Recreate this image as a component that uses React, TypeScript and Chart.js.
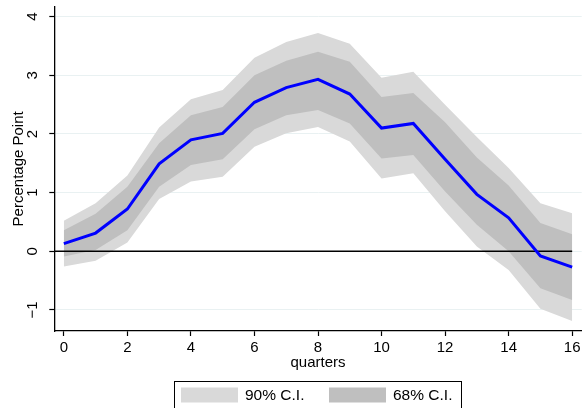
import React, { useEffect, useRef } from 'react';
import Chart from 'chart.js/auto';

// Impulse response and confidence bands
const quarters = [0, 1, 2, 3, 4, 5, 6, 7, 8, 9, 10, 11, 12, 13, 14, 15, 16];
const response = [0.13, 0.31, 0.72, 1.49, 1.9, 2.01, 2.54, 2.79, 2.93, 2.68, 2.1, 2.18, 1.57, 0.97, 0.57, -0.08, -0.27];
const upper68 = [0.36, 0.64, 1.1, 1.84, 2.32, 2.46, 3.0, 3.25, 3.4, 3.23, 2.63, 2.7, 2.2, 1.6, 1.12, 0.48, 0.29];
const lower68 = [-0.09, 0.02, 0.36, 1.1, 1.47, 1.57, 2.08, 2.32, 2.41, 2.18, 1.58, 1.64, 1.02, 0.45, 0.0, -0.63, -0.83];
const upper90 = [0.52, 0.82, 1.29, 2.11, 2.59, 2.75, 3.3, 3.57, 3.72, 3.54, 2.96, 3.06, 2.5, 1.95, 1.42, 0.82, 0.65];
const lower90 = [-0.26, -0.16, 0.15, 0.89, 1.19, 1.27, 1.78, 2.01, 2.12, 1.87, 1.24, 1.33, 0.68, 0.08, -0.32, -0.98, -1.19];

const xTicks = [0, 2, 4, 6, 8, 10, 12, 14, 16];
const yTicks = [-1, 0, 1, 2, 3, 4];
const xMin = -0.3;
const xMax = 16.3;
const yMin = -1.36;
const yMax = 4.17;

const LIGHT = '#d9d9d9';
const DARK = '#bfbfbf';
const FONT = 'Liberation Sans, Arial, Helvetica, sans-serif';

const toPoints = (ys: number[]) => quarters.map((q, i) => ({ x: q, y: ys[i] }));

// Stata-like boxed legend below the plot
const boxLegend = {
  id: 'boxLegend',
  afterDraw(chart: any) {
    const { ctx } = chart;
    const items = chart.data.datasets.filter((d: any) => d.inLegend);
    ctx.save();
    ctx.strokeStyle = '#000';
    ctx.lineWidth = 1;
    ctx.strokeRect(174.5, 381.5, 287, 40);
    ctx.font = `15.5px ${FONT}`;
    ctx.textBaseline = 'middle';
    ctx.textAlign = 'left';
    items.forEach((d: any, i: number) => {
      const x0 = 181 + i * 148;
      ctx.fillStyle = d.backgroundColor;
      ctx.fillRect(x0, 387.5, 57, 15);
      ctx.fillStyle = '#000';
      ctx.fillText(d.label, x0 + 64, 395.5);
    });
    ctx.restore();
  },
};

const IrfChart: React.FC = () => {
  const canvasRef = useRef<HTMLCanvasElement | null>(null);

  useEffect(() => {
    if (!canvasRef.current) return;
    const chart = new Chart(canvasRef.current, {
      type: 'line',
      data: {
        datasets: [
          {
            label: '90% C.I.',
            data: toPoints(upper90),
            backgroundColor: LIGHT,
            borderWidth: 0,
            pointRadius: 0,
            fill: '+1',
            order: 4,
            inLegend: true,
          } as any,
          {
            label: 'lower90',
            data: toPoints(lower90),
            borderWidth: 0,
            pointRadius: 0,
            fill: false,
            order: 4,
          },
          {
            label: '68% C.I.',
            data: toPoints(upper68),
            backgroundColor: DARK,
            borderWidth: 0,
            pointRadius: 0,
            fill: '+1',
            order: 3,
            inLegend: true,
          } as any,
          {
            label: 'lower68',
            data: toPoints(lower68),
            borderWidth: 0,
            pointRadius: 0,
            fill: false,
            order: 3,
          },
          {
            label: 'zero',
            data: [{ x: xMin, y: 0 }, { x: 16, y: 0 }],
            borderColor: '#000',
            borderWidth: 1.3,
            pointRadius: 0,
            fill: false,
            order: 2,
          },
          {
            label: 'response',
            data: toPoints(response),
            borderColor: '#0000ff',
            borderWidth: 3,
            pointRadius: 0,
            fill: false,
            order: 1,
          },
        ],
      },
      options: {
        responsive: false,
        animation: false,
        layout: { padding: { left: 0, top: 6.7, right: 3.3, bottom: 35 } },
        plugins: { legend: { display: false }, tooltip: { enabled: false } },
        scales: {
          x: {
            type: 'linear',
            min: xMin,
            max: xMax,
            afterBuildTicks: (s: any) => {
              s.ticks = xTicks.map((v) => ({ value: v }));
            },
            afterFit: (s: any) => {
              s.height = 42;
              s.paddingLeft = 0;
              s.paddingRight = 0;
            },
            border: { color: '#000', width: 1.3 },
            grid: { drawOnChartArea: false, tickColor: '#000', tickLength: 5, tickWidth: 1.2 },
            ticks: { color: '#000', font: { family: FONT, size: 15 }, padding: 3, maxRotation: 0 },
            title: { display: true, text: 'quarters', color: '#000', font: { family: FONT, size: 15 }, padding: { top: 0, bottom: 1.5 } },
          },
          y: {
            type: 'linear',
            min: yMin,
            max: yMax,
            afterBuildTicks: (s: any) => {
              s.ticks = yTicks.map((v) => ({ value: v }));
            },
            afterFit: (s: any) => {
              s.width = 54.3;
              s.paddingTop = 0;
              s.paddingBottom = 0;
            },
            border: { color: '#000', width: 1.3 },
            grid: { color: '#e9f1f2', lineWidth: 1, tickColor: '#000', tickLength: 5, tickWidth: 1.2 },
            ticks: {
              color: '#000',
              font: { family: FONT, size: 15 },
              padding: 8,
              minRotation: 90,
              maxRotation: 90,
              crossAlign: 'center',
              callback: (v: any) => (Number(v) < 0 ? '\u2212' + Math.abs(Number(v)) : String(v)),
            },
            title: { display: true, text: 'Percentage Point', color: '#000', font: { family: FONT, size: 15 }, padding: { top: 10, bottom: 0 } },
          },
        },
      },
      plugins: [boxLegend],
    });
    return () => chart.destroy();
  }, []);

  return (
    <div style={{ position: 'fixed', left: 0, top: 0, width: 585, height: 408, background: '#fff' }}>
      <canvas ref={canvasRef} width={585} height={408} />
    </div>
  );
};

export default function App() {
  return <IrfChart />;
}
